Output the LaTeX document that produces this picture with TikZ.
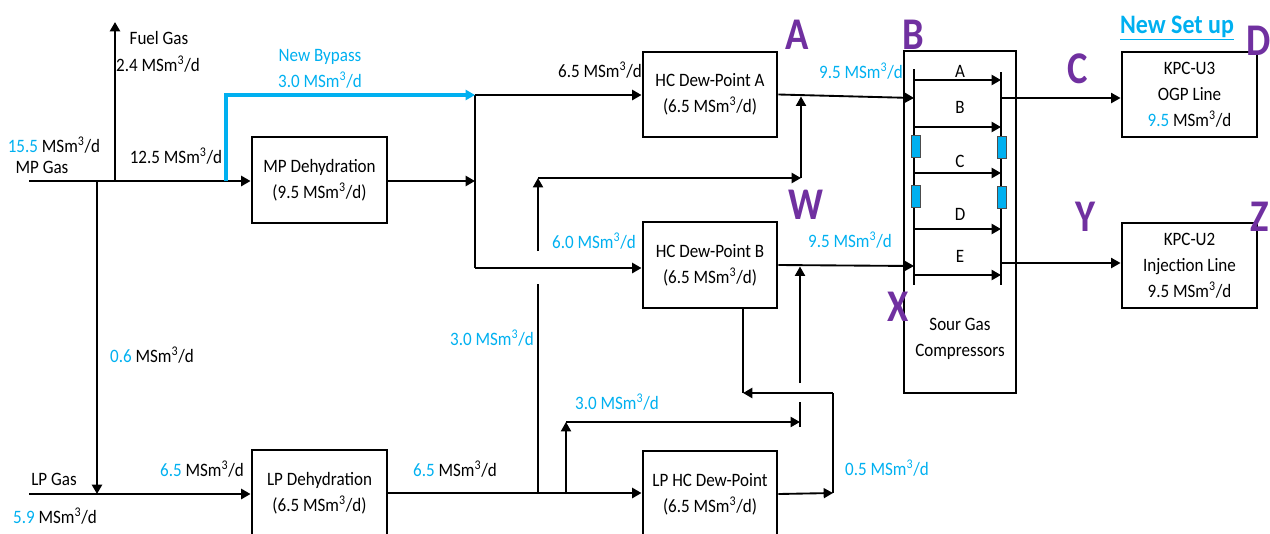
\documentclass[tikz,border=0pt]{standalone}
\usepackage{fontspec}
\setmainfont{Carlito}[FakeStretch=0.9]
\newfontfamily\purpfont{Carlito}[FakeStretch=0.85]
\usetikzlibrary{arrows.meta,calc}
\definecolor{cblue}{HTML}{00B0F0}
\definecolor{cpurple}{HTML}{7030A0}
\newcommand\msd{MSm\textsuperscript{3}/d}
\newcommand\bl[1]{\textcolor{cblue}{#1}}
\tikzset{
  tip/.style={-{Triangle[length=7pt,width=7.5pt]}},
  thk/.style={line width=2.1pt},
  med/.style={line width=1.4pt},
  box/.style={draw, line width=2.2pt, fill=white, align=center, inner sep=0pt,
    font=\fontsize{14.2}{19.5}\selectfont},
  lbl/.style={anchor=base, inner sep=0pt, font=\fontsize{14.2}{16}\selectfont},
  letter/.style={text=cpurple, inner sep=0pt,
    font={\purpfont\bfseries\fontsize{34}{34}\selectfont}},
  valve/.style={draw=black!70, fill=cblue, line width=0.6pt,
    minimum width=6.75pt, minimum height=16.5pt, inner sep=0pt},
}
\begin{document}
\begin{tikzpicture}[x=0.75pt,y=-0.75pt]
\useasboundingbox (0,0) rectangle (1270,533);

% ---------- boxes ----------
\node[box, minimum width=101.25pt, minimum height=64.5pt] (mpdh) at (319.5,180) {MP Dehydration\\(9.5 \msd)};
\node[box, minimum width=101.25pt, minimum height=64.5pt] (lpdh) at (319.5,493) {LP Dehydration\\(6.5 \msd)};
\node[box, minimum width=100.5pt, minimum height=63.75pt] (hcA) at (710,94.5) {HC Dew-Point A\\(6.5 \msd)};
\node[box, minimum width=100.5pt, minimum height=64.5pt] (hcB) at (710,265) {HC Dew-Point B\\(6.5 \msd)};
\node[box, minimum width=100.5pt, minimum height=64.5pt] (lphc) at (710,494) {LP HC Dew-Point\\(6.5 \msd)};
\node[box, minimum width=84pt, minimum height=256.5pt] (sgc) at (960,222) {};
\node[align=center, inner sep=0pt, font=\fontsize{14.2}{19.5}\selectfont] (sgct) at (960,339) {Sour Gas\\Compressors};
\node[box, minimum width=101.25pt, minimum height=63.75pt] (kpc3) at (1189.5,94.5) {KPC-U3\\OGP Line\\\bl{9.5} \msd};
\node[box, minimum width=101.25pt, minimum height=63.75pt] (kpc2) at (1189.5,265.5) {KPC-U2\\Injection Line\\9.5 \msd};

% ---------- coordinates ----------
\coordinate (mpin) at (29,181);
\coordinate (jdown) at (97,181);
\coordinate (jfuel) at (115,181);
\coordinate (fuelend) at (115,22);
\coordinate (jbyp) at (226,181);
\coordinate (lpin) at (29,494);
\coordinate (jlp) at (97,494);
\coordinate (v1) at (475,95);
\coordinate (v2) at (475,181);
\coordinate (v3) at (475,268);
\coordinate (p1) at (538,494);
\coordinate (p1h) at (538,284);
\coordinate (p1g) at (538,251);
\coordinate (p1t) at (538,178);
\coordinate (p2t) at (801,178);
\coordinate (p2a) at (801,96.5);
\coordinate (q1) at (566,494);
\coordinate (q1t) at (566,422);
\coordinate (q2) at (800,422);
\coordinate (q2b) at (800,427);
\coordinate (q2g) at (800,402);
\coordinate (q2h) at (800,383);
\coordinate (q2a) at (800,266.5);
\coordinate (r0) at ([xshift=24.75pt]hcB.south);
\coordinate (r1) at (743,393);
\coordinate (r2) at (833,393);
\coordinate (r3) at (833,493);
\coordinate (cinA) at (914,98);
\coordinate (cinB) at (914,266);
\coordinate (coutA) at (1001,98);
\coordinate (coutB) at (1001,263);

% ---------- main flows ----------
\draw[thk,tip] (mpin) -- (mpin -| mpdh.west);
\draw[thk,tip] (jfuel) -- (fuelend);
\draw[thk,tip] (jdown) -- (jlp);
\draw[thk,tip] (lpin) -- (lpin -| lpdh.west);
\draw[thk,tip] (mpdh.east |- v2) -- (v2);
\draw[thk] (v1) -- (v3);
\draw[thk,tip] (v1) -- (v1 -| hcA.west);
\draw[thk,tip] (v3) -- (v3 -| hcB.west);
\draw[line width=2.4pt,cblue,tip] (jbyp) |- (v1);
\draw[thk,tip] (lpdh.east) -- (lpdh.east -| lphc.west);

\draw[med,tip] (hcA.east) -- (cinA);
\draw[med,tip] (hcB.east) -- (cinB);

\draw[med] (p1) -- (p1h);
\draw[med,tip] (p1g) -- (p1t);
\draw[thk,tip] (p1t) -- (p2t);
\draw[med,tip] (p2t) -- (p2a);

\draw[med,tip] (q1) -- (q1t);
\draw[med,tip] (q1t) -- (q2);
\draw[med] (q2b) -- (q2g);
\draw[med,tip] (q2h) -- (q2a);

\draw[thk] (r0) -- (r1);
\draw[thk,tip] (r2) -- (r1);
\draw[thk] (r3) -- (r2);
\draw[med,tip] (lphc.east) -- (r3);

\draw[med,tip] (coutA) -- (coutA -| kpc3.west);
\draw[med,tip] (coutB) -- (coutB -| kpc2.west);

% ---------- compressor internals ----------
\coordinate (cl1) at (914,69);
\coordinate (cl2) at (914,285);
\coordinate (cr1) at (1001,72);
\coordinate (cr2) at (1001,285);
\draw[line width=1.6pt] (cl1) -- (cl2);
\draw[line width=1.6pt] (cr1) -- (cr2);
\foreach \yy/\nm in {80/a,127/b,173/c,229/d,275/e}{
  \coordinate (l\nm) at (914,\yy);
  \coordinate (r\nm) at (1001,\yy);
  \draw[line width=1.6pt,tip] (l\nm) -- (r\nm);
}
\node[lbl] (ia) at (960,77) {A};
\node[lbl] (ib) at (960,113) {B};
\node[lbl] (ic) at (960,167) {C};
\node[lbl] (id) at (960,220) {D};
\node[lbl] (ie) at (960,262) {E};
\node[valve] (vl1) at (915.5,146) {};
\node[valve] (vl2) at (915.5,196.5) {};
\node[valve] (vr1) at (1002,147) {};
\node[valve] (vr2) at (1002,197) {};

% ---------- labels ----------
\node[lbl] (t1) at (159,44) {Fuel Gas};
\node[lbl] (t2) at (158,71) {2.4 \msd};
\node[lbl] (t3) at (54,152) {\bl{15.5} \msd};
\node[lbl] (t4) at (42,173) {MP Gas};
\node[lbl] (t5) at (176,163) {12.5 \msd};
\node[lbl,text=cblue] (t6) at (320,61) {New Bypass};
\node[lbl,text=cblue] (t7) at (320,87) {3.0 \msd};
\node[lbl] (t8) at (600,77) {6.5 \msd};
\node[lbl,text=cblue] (t9) at (861,78) {9.5 \msd};
\node[lbl,text=cblue] (t10) at (594,248) {6.0 \msd};
\node[lbl,text=cblue] (t11) at (850,247) {9.5 \msd};
\node[lbl,text=cblue] (t12) at (492,345) {3.0 \msd};
\node[lbl] (t13) at (152,362) {\bl{0.6} \msd};
\node[lbl,text=cblue] (t14) at (617,409) {3.0 \msd};
\node[lbl] (t15) at (54,485) {LP Gas};
\node[lbl] (t16) at (55,523) {\bl{5.9} \msd};
\node[lbl] (t17) at (202,476) {\bl{6.5} \msd};
\node[lbl] (t18) at (455,476) {\bl{6.5} \msd};
\node[lbl,text=cblue] (t19) at (887,475) {0.5 \msd};
\node[lbl,text=cblue,font=\bfseries\fontsize{20}{22}\selectfont] (newset) at (1177,33) {\underline{New Set up}};

% ---------- purple letters ----------
\node[letter] (LA) at (797,35) {A};
\node[letter] (LB) at (913,35) {B};
\node[letter] (LC) at (1078,69) {C};
\node[letter] (LD) at (1259,41) {D};
\node[letter] (LW) at (806,205) {W};
\node[letter] (LX) at (898,307) {X};
\node[letter] (LY) at (1085,217) {Y};
\node[letter] (LZ) at (1260,217) {Z};
\end{tikzpicture}
\end{document}
